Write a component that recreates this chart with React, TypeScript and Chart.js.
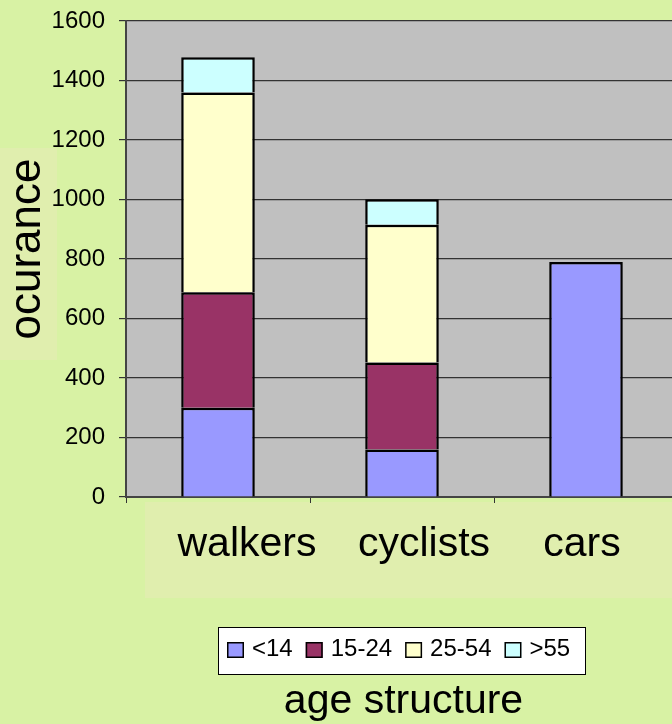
import React, { useEffect, useRef } from 'react';
import { Chart, registerables } from 'chart.js';

Chart.register(...registerables);

// ---- data ----
const categories = ['walkers', 'cyclists', 'cars'];
const seriesLabels = ['<14', '15-24', '25-54', '>55'];
const under14 = [300, 160, 790];
const age15to24 = [388, 292, null];
const age25to54 = [672, 463, null];
const over55 = [118, 86, null];
const yMin = 0;
const yMax = 1600;
const yStep = 200;
const yTitle = 'ocurance';
const xTitle = 'age structure';

// ---- styles ----
const seriesColors = ['#9999FF', '#993366', '#FFFFCC', '#CCFFFF'];
const labelShift = [29, 22, -4];
const FONT = '"Liberation Sans", Arial, sans-serif';
const PAGE_BG = '#d8f2a4';
const BOX_BG = '#e0eeae';
const PLOT_BG = '#c0c0c0';
const CANVAS_W = 680;
const CANVAS_H = 724;

const decorPlugin = {
  id: 'decor',
  beforeDraw(chart: any) {
    const { ctx, chartArea } = chart;
    ctx.save();
    ctx.fillStyle = PAGE_BG;
    ctx.fillRect(0, 0, chart.width, chart.height);
    ctx.fillStyle = BOX_BG;
    ctx.fillRect(0, 148, 57, 212);
    ctx.fillRect(145, 502, chart.width - 145, 96);
    ctx.fillStyle = PLOT_BG;
    ctx.fillRect(chartArea.left, chartArea.top, chartArea.right - chartArea.left, chartArea.bottom - chartArea.top);
    ctx.restore();
  },
  afterDraw(chart: any) {
    const { ctx } = chart;
    const xScale = chart.scales.x;
    ctx.save();
    ctx.fillStyle = '#000';

    // y axis title
    ctx.save();
    ctx.translate(40, 249);
    ctx.rotate(-Math.PI / 2);
    ctx.font = `44px ${FONT}`;
    ctx.textAlign = 'center';
    ctx.textBaseline = 'alphabetic';
    ctx.fillText(yTitle, 0, 0);
    ctx.restore();

    // category labels
    ctx.font = `41px ${FONT}`;
    ctx.textAlign = 'center';
    ctx.textBaseline = 'alphabetic';
    categories.forEach((c, i) => {
      ctx.fillText(c, xScale.getPixelForValue(i) + labelShift[i], 556);
    });

    // legend
    ctx.fillStyle = '#fff';
    ctx.fillRect(218, 627, 367, 47);
    ctx.strokeStyle = '#000';
    ctx.lineWidth = 1;
    ctx.strokeRect(218.5, 627.5, 367, 47);
    ctx.font = `24px ${FONT}`;
    ctx.textAlign = 'left';
    let x = 227;
    chart.data.datasets.forEach((ds: any) => {
      ctx.fillStyle = ds.backgroundColor;
      ctx.fillRect(x, 642, 17, 16);
      ctx.lineWidth = 1.5;
      ctx.strokeStyle = '#000';
      ctx.strokeRect(x + 0.75, 642.75, 15.5, 14.5);
      x += 17 + 8;
      ctx.fillStyle = '#000';
      ctx.fillText(ds.label, x, 656);
      x += ctx.measureText(ds.label).width + 13;
    });

    // x axis title
    ctx.font = `41px ${FONT}`;
    ctx.textAlign = 'center';
    ctx.fillText(xTitle, 403.5, 713);
    ctx.restore();
  },
};

export default function App() {
  const ref = useRef<HTMLCanvasElement>(null);

  useEffect(() => {
    const canvas = ref.current;
    if (!canvas) return;
    const seriesData = [under14, age15to24, age25to54, over55];
    const chart = new Chart(canvas, {
      type: 'bar',
      data: {
        labels: categories,
        datasets: seriesData.map((d, i) => ({
          label: seriesLabels[i],
          data: d,
          backgroundColor: seriesColors[i],
          borderColor: '#000',
          borderWidth: 2.5,
          barPercentage: 0.4,
          categoryPercentage: 1.0,
        })),
      },
      options: {
        responsive: false,
        animation: false,
        devicePixelRatio: 1,
        layout: { padding: { left: 0, right: 2, top: 21, bottom: 0 } },
        plugins: {
          legend: { display: false },
          title: { display: false },
          tooltip: { enabled: false },
        },
        scales: {
          x: {
            stacked: true,
            ticks: { display: false },
            grid: {
              drawOnChartArea: false,
              drawTicks: true,
              tickLength: 6,
              color: '#333',
              lineWidth: 1,
            },
            border: { color: '#444', width: 2 },
            afterFit: (scale: any) => {
              scale.height = 227;
              scale.paddingLeft = 0;
              scale.paddingRight = 0;
            },
          },
          y: {
            stacked: true,
            min: yMin,
            max: yMax,
            ticks: {
              stepSize: yStep,
              color: '#000',
              font: { family: FONT, size: 24 },
              padding: 14,
              callback: (v: any) => String(v),
            },
            grid: {
              color: '#333',
              lineWidth: 1.2,
              tickLength: 7,
            },
            border: { color: '#444', width: 2 },
            afterFit: (scale: any) => {
              scale.width = 126;
              scale.paddingTop = 0;
              scale.paddingBottom = 0;
            },
          },
        },
      },
      plugins: [decorPlugin],
    });
    return () => chart.destroy();
  }, []);

  return (
    <div
      style={{
        position: 'fixed',
        left: 0,
        top: 0,
        width: 672,
        height: 724,
        overflow: 'hidden',
        background: PAGE_BG,
      }}
    >
      <canvas ref={ref} width={CANVAS_W} height={CANVAS_H} style={{ display: 'block', width: CANVAS_W, height: CANVAS_H }} />
    </div>
  );
}
